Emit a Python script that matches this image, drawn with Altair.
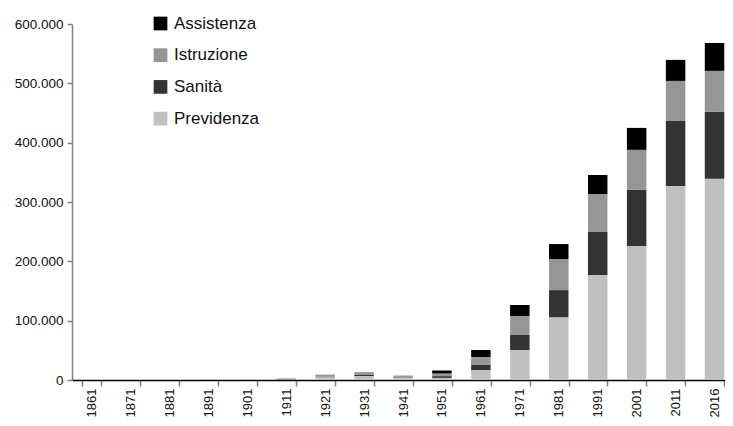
import altair as alt
import pandas as pd

years = ["1861", "1871", "1881", "1891", "1901", "1911", "1921", "1931", "1941",
         "1951", "1961", "1971", "1981", "1991", "2001", "2011", "2016"]
previdenza = [100, 100, 200, 200, 300, 1000, 5000, 6700, 3400, 3500, 16900, 50600,
              106000, 177000, 226000, 327000, 339000]
sanita = [0, 0, 0, 0, 0, 100, 300, 1700, 300, 3000, 8400, 25300,
          45500, 72500, 94400, 109600, 113000]
istruzione = [100, 100, 100, 200, 200, 700, 3400, 3900, 3400, 4500, 13500, 32000,
              52300, 64000, 67500, 67500, 69000]
assistenza = [0, 0, 0, 0, 0, 100, 200, 500, 200, 5000, 11800, 18500,
              25300, 32000, 37000, 35400, 47000]

series = [("Previdenza", previdenza), ("Sanità", sanita),
          ("Istruzione", istruzione), ("Assistenza", assistenza)]
legend_order = ["Assistenza", "Istruzione", "Sanità", "Previdenza"]
colors = ["#000000", "#969696", "#333333", "#c0c0c0"]

rows = []
for k, (name, vals) in enumerate(series):
    for y, v in zip(years, vals):
        rows.append({"anno": y, "voce": name, "valore": v, "ordine": k})
df = pd.DataFrame(rows)

FONT = "Liberation Sans"

chart = alt.Chart(df).mark_bar().encode(
    x=alt.X("anno:N", sort=years,
            scale=alt.Scale(range=[0, 662], paddingInner=0.5, paddingOuter=0.25),
            axis=alt.Axis(title=None, labelAngle=270, labelFont=FONT, labelFontSize=13,
                          labelColor="#111111", labelPadding=2, tickBand="extent",
                          tickColor="#808080", tickSize=6, tickWidth=1.5,
                          domainColor="#000000", domainWidth=1.5, grid=False)),
    y=alt.Y("valore:Q", stack="zero",
            scale=alt.Scale(domain=[0, 600000], nice=False),
            axis=alt.Axis(title=None, values=[0, 100000, 200000, 300000, 400000, 500000, 600000],
                          labelExpr="replace(format(datum.value, ','), ',', '.')",
                          labelFont=FONT, labelFontSize=13.5, labelColor="#111111",
                          labelPadding=4, tickColor="#808080", tickSize=5, tickWidth=1.5,
                          domainColor="#808080", domainWidth=1.5, grid=False)),
    color=alt.Color("voce:N",
                    scale=alt.Scale(domain=legend_order, range=colors),
                    legend=alt.Legend(title=None, orient="none", legendX=80, legendY=-9,
                                      symbolType="square", symbolSize=188,
                                      symbolStrokeWidth=0, labelFont=FONT,
                                      labelFontSize=17, labelColor="#111111",
                                      labelOffset=5, rowPadding=13.7, padding=0)),
    order=alt.Order("ordine:Q", sort="ascending"),
).properties(
    width=653, height=356,
    autosize=alt.AutoSizeParams(type="none"),
    padding={"left": 64, "top": 16, "right": 0, "bottom": 38},
).configure_view(strokeWidth=0)

chart.save("out.html", embed_options={"renderer": "svg", "actions": False})
